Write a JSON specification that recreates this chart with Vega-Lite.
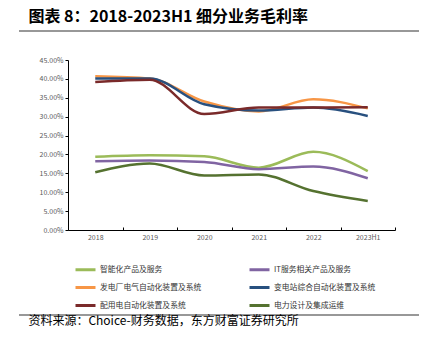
{
  "$schema": "https://vega.github.io/schema/vega-lite/v6.json",
  "padding": {"left": 17, "top": 8, "right": 4, "bottom": 0},
  "config": {
    "font": "Noto Sans CJK SC",
    "view": {"stroke": null}
  },
  "datasets": {
    "gm": [
      {"year": "2018", "series": "智能化产品及服务", "value": 0.194},
      {"year": "2019", "series": "智能化产品及服务", "value": 0.198},
      {"year": "2020", "series": "智能化产品及服务", "value": 0.195},
      {"year": "2021", "series": "智能化产品及服务", "value": 0.165},
      {"year": "2022", "series": "智能化产品及服务", "value": 0.207},
      {"year": "2023H1", "series": "智能化产品及服务", "value": 0.156},
      {"year": "2018", "series": "IT服务相关产品及服务", "value": 0.182},
      {"year": "2019", "series": "IT服务相关产品及服务", "value": 0.184},
      {"year": "2020", "series": "IT服务相关产品及服务", "value": 0.180},
      {"year": "2021", "series": "IT服务相关产品及服务", "value": 0.161},
      {"year": "2022", "series": "IT服务相关产品及服务", "value": 0.168},
      {"year": "2023H1", "series": "IT服务相关产品及服务", "value": 0.137},
      {"year": "2018", "series": "发电厂电气自动化装置及系统", "value": 0.407},
      {"year": "2019", "series": "发电厂电气自动化装置及系统", "value": 0.401},
      {"year": "2020", "series": "发电厂电气自动化装置及系统", "value": 0.340},
      {"year": "2021", "series": "发电厂电气自动化装置及系统", "value": 0.314},
      {"year": "2022", "series": "发电厂电气自动化装置及系统", "value": 0.346},
      {"year": "2023H1", "series": "发电厂电气自动化装置及系统", "value": 0.322},
      {"year": "2018", "series": "变电站综合自动化装置及系统", "value": 0.401},
      {"year": "2019", "series": "变电站综合自动化装置及系统", "value": 0.401},
      {"year": "2020", "series": "变电站综合自动化装置及系统", "value": 0.333},
      {"year": "2021", "series": "变电站综合自动化装置及系统", "value": 0.316},
      {"year": "2022", "series": "变电站综合自动化装置及系统", "value": 0.324},
      {"year": "2023H1", "series": "变电站综合自动化装置及系统", "value": 0.302},
      {"year": "2018", "series": "配用电自动化装置及系统", "value": 0.392},
      {"year": "2019", "series": "配用电自动化装置及系统", "value": 0.398},
      {"year": "2020", "series": "配用电自动化装置及系统", "value": 0.307},
      {"year": "2021", "series": "配用电自动化装置及系统", "value": 0.324},
      {"year": "2022", "series": "配用电自动化装置及系统", "value": 0.324},
      {"year": "2023H1", "series": "配用电自动化装置及系统", "value": 0.325},
      {"year": "2018", "series": "电力设计及集成运维", "value": 0.153},
      {"year": "2019", "series": "电力设计及集成运维", "value": 0.176},
      {"year": "2020", "series": "电力设计及集成运维", "value": 0.144},
      {"year": "2021", "series": "电力设计及集成运维", "value": 0.147},
      {"year": "2022", "series": "电力设计及集成运维", "value": 0.103},
      {"year": "2023H1", "series": "电力设计及集成运维", "value": 0.077}
    ],
    "divider": [{"level": 0}]
  },
  "spacing": 23,
  "vconcat": [
    {
      "width": 400,
      "height": 6,
      "view": {"stroke": "#ffffff"},
      "title": {
        "text": "图表 8：2018-2023H1 细分业务毛利率",
        "anchor": "start",
        "dx": 10,
        "fontSize": 16,
        "fontWeight": "bold",
        "color": "#000000",
        "offset": 0
      },
      "data": {"name": "divider"},
      "mark": {"type": "rule", "color": "#333333", "strokeWidth": 1.2},
      "encoding": {
        "y": {"field": "level", "type": "quantitative", "axis": null, "scale": {"domain": [0, 1]}}
      }
    },
    {
      "spacing": 68,
      "vconcat": [
        {
          "width": 400,
          "height": 170,
          "data": {"name": "gm"},
          "mark": {"type": "line", "interpolate": "monotone", "strokeWidth": 2.5},
          "encoding": {
            "x": {
              "field": "year",
              "type": "ordinal",
              "title": null,
              "scale": {"paddingInner": 0, "paddingOuter": 0, "range": [49, 376]},
              "axis": {
                "labelAngle": 0,
                "labelFontSize": 7,
                "labelColor": "#595959",
                "domainColor": "#000000",
                "tickColor": "#000000",
                "tickBand": "extent",
                "tickSize": -3,
                "labelPadding": 6,
                "grid": false
              }
            },
            "y": {
              "field": "value",
              "type": "quantitative",
              "title": null,
              "scale": {"domain": [0, 0.45], "nice": false},
              "axis": {
                "format": ".2%",
                "values": [0, 0.05, 0.1, 0.15, 0.2, 0.25, 0.3, 0.35, 0.4, 0.45],
                "labelFontSize": 7,
                "labelColor": "#595959",
                "domainColor": "#000000",
                "tickColor": "#000000",
                "tickSize": 3,
                "labelPadding": 2,
                "grid": false,
                "offset": -49
              }
            },
            "color": {
              "field": "series",
              "type": "nominal",
              "scale": {
                "domain": ["智能化产品及服务", "IT服务相关产品及服务", "发电厂电气自动化装置及系统", "变电站综合自动化装置及系统", "配用电自动化装置及系统", "电力设计及集成运维"],
                "range": ["#9BBB59", "#8064A2", "#F79646", "#28507F", "#7A2A2A", "#557230"]
              },
              "legend": {
                "title": null,
                "orient": "none",
                "direction": "horizontal",
                "legendX": 55,
                "legendY": 233,
                "columns": 2,
                "columnPadding": 41,
                "rowPadding": -3,
                "symbolType": "stroke",
                "symbolSize": 400,
                "symbolStrokeWidth": 3,
                "labelFontSize": 7.8,
                "labelColor": "#333333",
                "labelOffset": 3
              }
            }
          }
        },
        {
          "width": 400,
          "height": 6,
          "view": {"stroke": "#ffffff"},
          "title": {
            "text": "资料来源：Choice-财务数据，东方财富证券研究所",
            "orient": "bottom",
            "anchor": "start",
            "dx": 10,
            "fontSize": 12,
            "fontWeight": "normal",
            "color": "#000000",
            "offset": 0
          },
          "data": {"name": "divider"},
          "mark": {"type": "rule", "color": "#333333", "strokeWidth": 1.2},
          "encoding": {
            "y": {"field": "level", "type": "quantitative", "axis": null, "scale": {"domain": [0, 1]}}
          }
        }
      ]
    }
  ]
}
